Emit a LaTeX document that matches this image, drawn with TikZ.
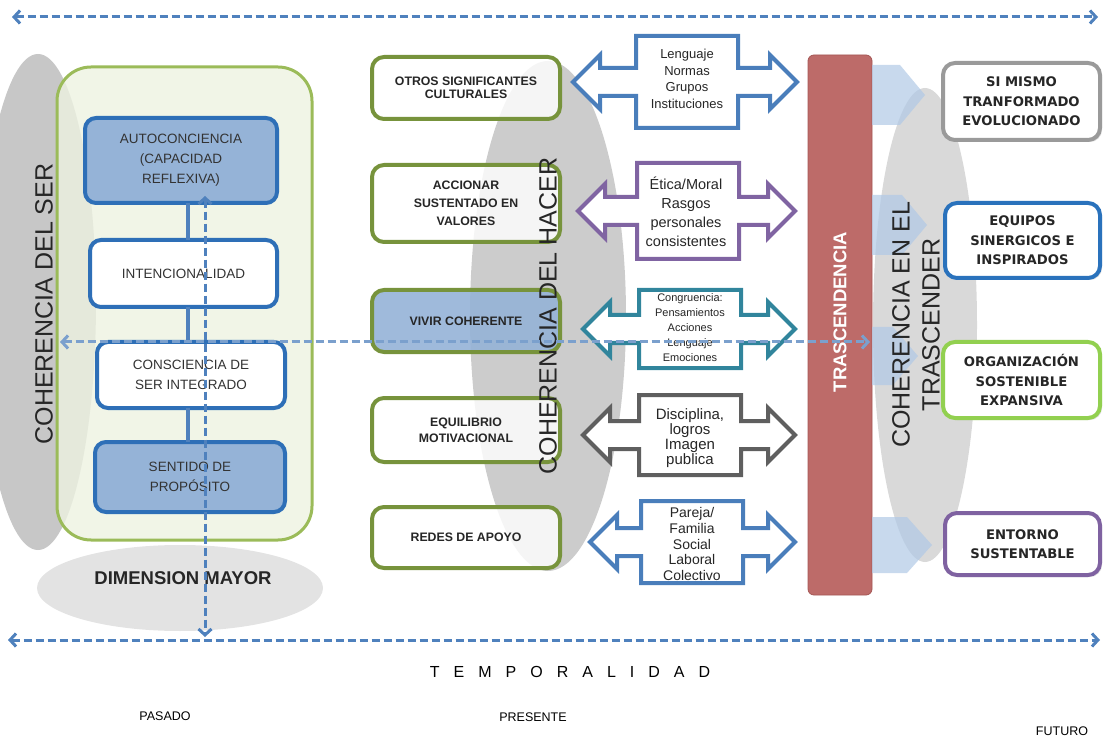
\documentclass[tikz,border=0pt]{standalone}
\usepackage{fontspec}
\setmainfont{Liberation Sans}
\newfontfamily\dejavu{DejaVu Sans}
\usetikzlibrary{arrows.meta,shapes.geometric,shadows}
\definecolor{dashblue}{HTML}{4F81BD}
\definecolor{boxblue}{HTML}{2E6FB7}
\definecolor{fillblue}{HTML}{95B3D7}
\definecolor{olive}{HTML}{77933C}
\definecolor{sergreen}{HTML}{9BBB59}
\definecolor{serfill}{HTML}{EDF2E1}
\definecolor{barred}{HTML}{BD6B69}
\definecolor{barredd}{HTML}{A45654}
\definecolor{chevblue}{HTML}{B0C9E6}
\definecolor{cblue}{HTML}{4A7EBB}
\definecolor{cpurple}{HTML}{8064A2}
\definecolor{cteal}{HTML}{31859C}
\definecolor{cgray}{HTML}{5F5F5F}
\definecolor{rgray}{HTML}{9A9A9A}
\definecolor{rblue}{HTML}{2A72BC}
\definecolor{rgreen}{HTML}{92D050}
\definecolor{rpurple}{HTML}{7F62A1}
\definecolor{txt}{HTML}{262626}
\newcommand{\callarrow}[6]{%
\draw[callstyle, draw=#3] ({#1-51},{#2-#4}) -- ({#1+51},{#2-#4}) -- ({#1+51},{#2-14}) -- ({#6-27},{#2-14}) -- ({#6-27},{#2-27}) -- (#6,#2) -- ({#6-27},{#2+27}) -- ({#6-27},{#2+14}) -- ({#1+51},{#2+14}) -- ({#1+51},{#2+#4}) -- ({#1-51},{#2+#4}) -- ({#1-51},{#2+14}) -- ({#5+27},{#2+14}) -- ({#5+27},{#2+27}) -- (#5,#2) -- ({#5+27},{#2-27}) -- ({#5+27},{#2-14}) -- ({#1-51},{#2-14}) -- cycle;}
\begin{document}
\begin{tikzpicture}[x=1pt,y=-1pt,
  every node/.style={inner sep=0pt,outer sep=0pt,text=txt},
  bgell/.style={ellipse,draw=none,fill=#1},
  dasharrow/.style={draw=dashblue,line width=3pt,dash pattern=on 8pt off 4pt,
     {Straight Barb[length=6pt,width=13pt]}-{Straight Barb[length=6pt,width=13pt]}},
  innerbox/.style={draw=boxblue,line width=4pt,rounded corners=11pt,align=center,
     font=\fontsize{13.5}{20}\selectfont,text=black!80},
  midbox/.style={draw=olive,line width=4pt,rounded corners=12pt,fill=white,fill opacity=0.82,text opacity=1,
     minimum width=188pt,align=center,font=\fontsize{12.3}{16}\bfseries\selectfont},
  rightbox/.style={line width=4pt,rounded corners=12pt,fill=white,align=center,
     drop shadow={opacity=0.25,shadow xshift=2pt,shadow yshift=-2pt},
     font=\dejavu\fontsize{13.2}{19.5}\bfseries\selectfont},
  callstyle/.style={line width=4pt,line join=miter,fill=white},
  calltext/.style={align=center},
  chev/.style={fill=chevblue,fill opacity=0.7,draw=none},
  bigrot/.style={rotate=90,font=\fontsize{25}{29}\selectfont,text=black!85},
  conn/.style={draw=dashblue,line width=4pt}
]
\useasboundingbox (0,0) rectangle (1104,738);
% background ellipses
\node[bgell=black!22,minimum width=116pt,minimum height=496pt] (lell) at (38,302) {};
\node[bgell=black!11,minimum width=286pt,minimum height=86pt] (bell) at (180,588) {};
\node[bgell=black!20,minimum width=156pt,minimum height=510pt] (mell) at (548,316) {};
\node[bgell=black!15,minimum width=104pt,minimum height=474pt] (rell) at (925,325) {};
% big green box
\node[draw=sergreen,line width=3pt,fill=serfill,fill opacity=0.8,rounded corners=34pt,
      minimum width=255pt,minimum height=473pt] (ser) at (184.5,303.5) {};
% inner boxes
\node[innerbox,fill=fillblue,minimum width=192pt,minimum height=85pt] (a1) at (181,160.5)
   {AUTOCONCIENCIA\\(CAPACIDAD\\REFLEXIVA)};
\node[innerbox,fill=white,minimum width=187pt,minimum height=67pt] (a2) at (183.5,273.5)
   {INTENCIONALIDAD};
\node[innerbox,fill=white,minimum width=188pt,minimum height=66pt] (a3) at (191,375)
   {CONSCIENCIA DE\\SER INTEGRADO};
\node[innerbox,fill=fillblue,minimum width=190pt,minimum height=70pt] (a4) at (190,477)
   {SENTIDO DE\\PROPÓSITO};
\coordinate (cx) at (188,0);
\draw[conn] (a1.south -| cx) -- (a2.north -| cx);
\draw[conn] (a2.south -| cx) -- (a3.north -| cx);
\draw[conn] (a3.south -| cx) -- (a4.north -| cx);
% middle green boxes
\node[midbox,minimum height=62pt,font=\fontsize{12.3}{13}\bfseries\selectfont] (g1) at (466,88) {OTROS SIGNIFICANTES\\CULTURALES};
\node[midbox,minimum height=77pt,font=\fontsize{12.3}{18}\bfseries\selectfont] (g2) at (466,203.5) {ACCIONAR\\SUSTENTADO EN\\VALORES};
\node[midbox,minimum height=62pt,fill=fillblue,fill opacity=0.9] (g3) at (466,321) {VIVIR COHERENTE};
\node[midbox,minimum height=64pt] (g4) at (466,430) {EQUILIBRIO\\MOTIVACIONAL};
\node[midbox,minimum height=61pt] (g5) at (466,537.5) {REDES DE APOYO};
% callout double arrows
\callarrow{687}{82}{cblue}{46}{573}{797}
\callarrow{688}{211}{cpurple}{48}{578}{795}
\callarrow{690}{329}{cteal}{39}{583}{795}
\callarrow{690}{435}{cgray}{40}{583}{795}
\callarrow{692}{542}{cblue}{41}{590}{795}
\node[calltext,font=\fontsize{13}{16.7}\selectfont] (t1) at (687,79) {Lenguaje\\Normas\\Grupos\\Instituciones};
\node[calltext,font=\fontsize{14.5}{19}\selectfont] (t2) at (686,212) {Ética/Moral\\Rasgos\\personales\\consistentes};
\node[calltext,font=\fontsize{11}{15}\selectfont] (t3) at (690,328) {Congruencia:\\Pensamientos\\Acciones\\Lenguaje\\Emociones};
\node[calltext,font=\fontsize{15}{12.5}\selectfont] (t4) at (690,438) {Disciplina,\\logros\\Imagen\\publica};
\node[calltext,font=\fontsize{14}{15.7}\selectfont] (t5) at (692,544) {Pareja/\\Familia\\Social\\Laboral\\Colectivo};
% trascendencia bar and chevrons
\node[fill=barred,draw=barredd,line width=0.8pt,rounded corners=6pt,minimum width=64pt,minimum height=540pt] (bar) at (840,325) {};
\fill[chev] (872,65) -- (900,65) -- (925,95) -- (900,125) -- (872,125) -- cycle;
\fill[chev] (872,195) -- (902,195) -- (927,225) -- (902,255) -- (872,255) -- cycle;
\fill[chev] (872,327) -- (893,327) -- (918,356) -- (893,385) -- (872,385) -- cycle;
\fill[chev] (872,517) -- (907,517) -- (932,545) -- (907,573) -- (872,573) -- cycle;
\node[rotate=90,text=white,font=\fontsize{18.5}{20}\bfseries\selectfont] (trl) at (840,312) {TRASCENDENCIA};
% right boxes
\node[rightbox,draw=rgray,minimum width=157pt,minimum height=77pt] (r1) at (1021.5,101.5) {SI MISMO\\TRANFORMADO\\EVOLUCIONADO};
\node[rightbox,draw=rblue,minimum width=155pt,minimum height=75pt] (r2) at (1022.5,240.5) {EQUIPOS\\SINERGICOS E\\INSPIRADOS};
\node[rightbox,draw=rgreen,minimum width=157pt,minimum height=76pt] (r3) at (1021.5,380) {ORGANIZACIÓN\\SOSTENIBLE\\EXPANSIVA};
\node[rightbox,draw=rpurple,minimum width=155pt,minimum height=62pt] (r4) at (1022.5,544) {ENTORNO\\SUSTENTABLE};
% rotated titles
\node[bigrot] (tser) at (44,304) {COHERENCIA DEL SER};
\node[bigrot] (thacer) at (548,316) {COHERENCIA DEL HACER};
\node[bigrot,align=center,font=\fontsize{25}{30}\selectfont] (ttras) at (916,325) {COHERENCIA EN EL\\TRASCENDER};
\node[font=\fontsize{18.5}{20}\bfseries\selectfont,text=black!85] (dim) at (183,578) {DIMENSION MAYOR};
% dashed arrows
\coordinate (topL) at (12,17);
\coordinate (topR) at (1098,17);
\coordinate (botL) at (8,640);
\coordinate (botR) at (1100,640);
\coordinate (midL) at (60,342);
\coordinate (midR) at (870,342);
\coordinate (vTop) at (205,196);
\coordinate (vBot) at (205,637);
\draw[dasharrow] (topL) -- (topR);
\draw[dasharrow] (botL) -- (botR);
\draw[dasharrow,draw=dashblue!75] (midL) -- (midR);
\draw[dasharrow] (vTop) -- (vBot);
% bottom labels
\node[font=\fontsize{16}{18}\selectfont,text=black] (temp) at (570,672) {\spaceskip=14pt T E M P O R A L I D A D};
\node[font=\fontsize{12.5}{14}\selectfont,text=black] (pas) at (165,716) {PASADO};
\node[font=\fontsize{12.5}{14}\selectfont,text=black] (pre) at (533,717) {PRESENTE};
\node[font=\fontsize{12.5}{14}\selectfont,text=black] (fut) at (1062,731) {FUTURO};
\end{tikzpicture}
\end{document}
